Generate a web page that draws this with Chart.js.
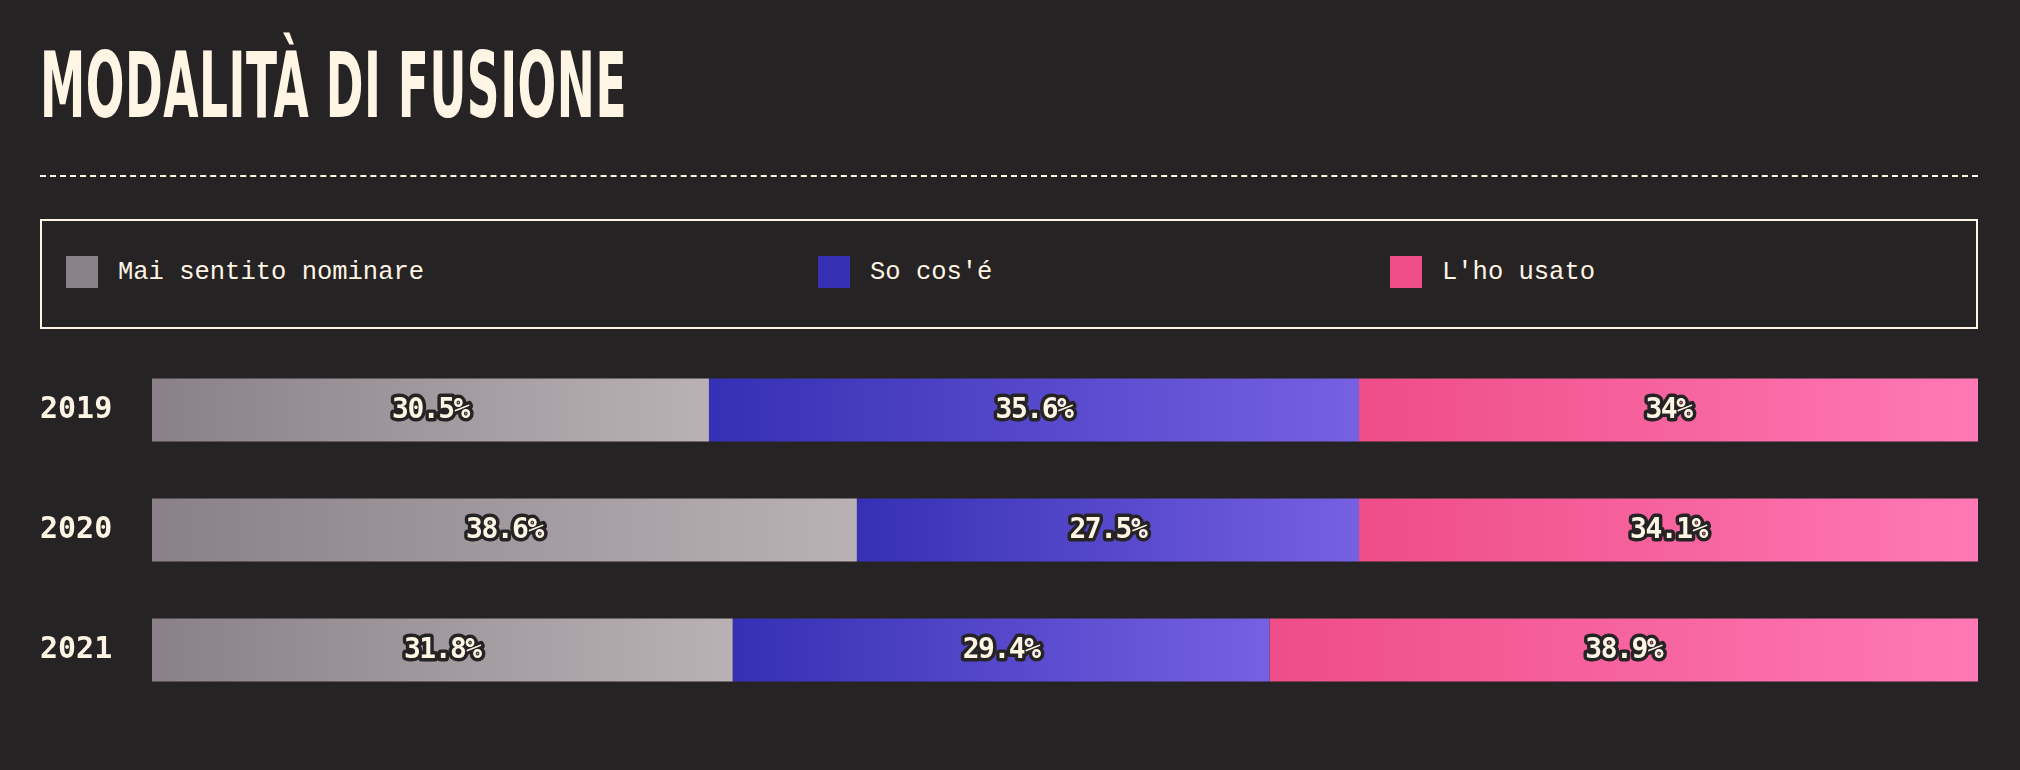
<!DOCTYPE html>
<html>
<head>
<meta charset="utf-8">
<script src="https://cdn.jsdelivr.net/npm/chart.js@4/dist/chart.umd.min.js"></script>
<style>
  html, body { margin:0; padding:0; background:#262324; width:2020px; height:770px; overflow:hidden; }
  #title { position:absolute; left:40px; top:42px; margin:0; font-family:"Liberation Sans Narrow","DejaVu Sans Condensed","Liberation Sans",sans-serif; font-weight:700; font-size:90px; line-height:88px; color:#fff5e5; white-space:nowrap; transform-origin:0 0; letter-spacing:1px; }
  #rule { position:absolute; left:40px; top:175px; width:1938px; height:0; border-top:2px dashed #fff5e5; }
  #legend { position:absolute; left:40px; top:219px; width:1934px; height:106px; border:2px solid #fff5e5; }
  .item { position:absolute; top:35px; height:32px; display:flex; align-items:center; font-family:"Liberation Mono","DejaVu Sans Mono",monospace; font-size:25.5px; color:#fff5e5; white-space:nowrap; }
  .sw { width:32px; height:32px; margin-right:20px; flex:none; }
  #wrap { position:absolute; left:40px; top:350px; width:1938px; height:360px; }
</style>
</head>
<body>
<div id="title">MODALITÀ DI FUSIONE</div>
<div id="rule"></div>
<div id="legend"></div>
<div id="wrap"><canvas id="c"></canvas></div>
<script>
const years = ["2019", "2020", "2021"];
const seriesNames = ["Mai sentito nominare", "So cos'é", "L'ho usato"];
const maiSentito = [30.5, 38.6, 31.8];
const soCose = [35.6, 27.5, 29.4];
const hoUsato = [34, 34.1, 38.9];

const gradStops = [["#8a8188", "#b9b1b4"], ["#3530b4", "#7760e2"], ["#ee4d88", "#ff79b5"]];
const allSeries = [maiSentito, soCose, hoUsato];

// title fit
const t = document.getElementById('title');
const tw = t.getBoundingClientRect().width;
t.style.transform = 'scaleX(' + (587 / tw) + ')';

// legend
const legend = document.getElementById('legend');
const legendLefts = [24, 776, 1348];
seriesNames.forEach((n, i) => {
  const d = document.createElement('div');
  d.className = 'item';
  d.style.left = legendLefts[i] + 'px';
  d.innerHTML = '<span class="sw" style="background:' + gradStops[i][0] + '"></span><span></span>';
  d.lastChild.textContent = n;
  legend.appendChild(d);
});

function segColor(dsIndex) {
  return function(ctx) {
    const chart = ctx.chart;
    const x = chart.scales.x;
    if (!chart.chartArea || !x || ctx.dataIndex === undefined) return gradStops[dsIndex][0];
    let start = 0;
    for (let k = 0; k < dsIndex; k++) start += allSeries[k][ctx.dataIndex];
    const end = start + allSeries[dsIndex][ctx.dataIndex];
    const x0 = x.getPixelForValue(start), x1 = Math.min(x.getPixelForValue(end), chart.chartArea.right);
    const g = chart.ctx.createLinearGradient(x0, 0, x1, 0);
    g.addColorStop(0, gradStops[dsIndex][0]);
    g.addColorStop(1, gradStops[dsIndex][1]);
    return g;
  };
}

const labelPlugin = {
  id: 'segLabels',
  afterDatasetsDraw(chart) {
    const c = chart.ctx;
    c.save();
    c.font = 'bold 28px "DejaVu Sans Mono", "Liberation Mono", monospace';
    try { c.letterSpacing = '-1.5px'; } catch (e) {}
    c.textAlign = 'center';
    c.textBaseline = 'middle';
    c.lineJoin = 'round';
    const area = chart.chartArea;
    chart.data.datasets.forEach((ds, di) => {
      chart.getDatasetMeta(di).data.forEach((bar, i) => {
        const left = Math.min(bar.base, bar.x), right = Math.min(Math.max(bar.base, bar.x), area.right);
        const cx = (left + right) / 2;
        const txt = ds.data[i] + '%';
        c.lineWidth = 7;
        c.strokeStyle = '#262324';
        c.strokeText(txt, cx, bar.y + 1);
        c.fillStyle = '#fff5e5';
        c.fillText(txt, cx, bar.y + 1);
      });
    });
    c.restore();
  }
};

new Chart(document.getElementById('c'), {
  type: 'bar',
  data: {
    labels: years,
    datasets: allSeries.map((s, i) => ({
      label: seriesNames[i],
      data: s,
      backgroundColor: segColor(i),
      borderWidth: 0,
      categoryPercentage: 1,
      barPercentage: 0.525
    }))
  },
  options: {
    indexAxis: 'y',
    responsive: true,
    maintainAspectRatio: false,
    animation: false,
    layout: { padding: 0 },
    plugins: { legend: { display: false }, tooltip: { enabled: false } },
    scales: {
      x: { stacked: true, min: 0, max: 100, display: false },
      y: {
        stacked: true,
        grid: { display: false },
        border: { display: false },
        ticks: {
          crossAlign: 'far',
          color: '#fff5e5',
          font: { family: '"DejaVu Sans Mono", "Liberation Mono", monospace', weight: 'bold', size: 30 },
          padding: 0
        },
        afterFit(scale) { scale.width = 112; scale.paddingTop = 0; scale.paddingBottom = 0; }
      }
    }
  },
  plugins: [labelPlugin]
});
</script>
</body>
</html>
